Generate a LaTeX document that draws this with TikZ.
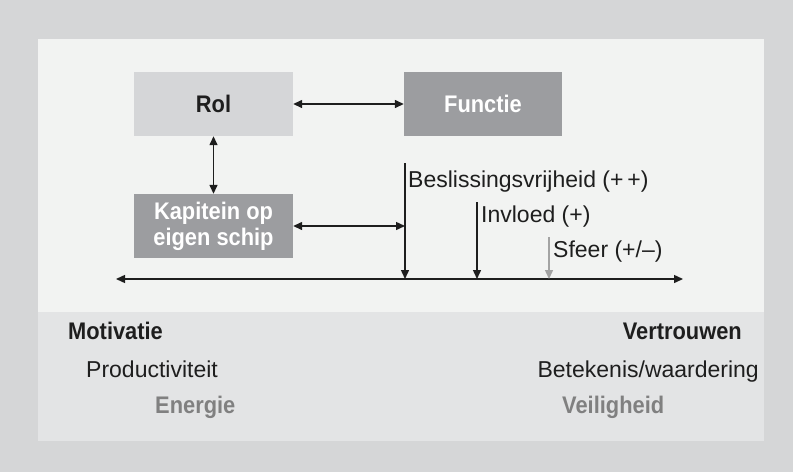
\documentclass[tikz,border=0pt]{standalone}
\usepackage{fontspec}
\setmainfont{Liberation Sans}[BoldFeatures={FakeStretch=0.91}]
\usetikzlibrary{arrows.meta}
\definecolor{outerbg}{HTML}{D5D6D7}
\definecolor{toppanel}{HTML}{F2F3F2}
\definecolor{botpanel}{HTML}{E3E4E5}
\definecolor{lightbox}{HTML}{D5D6D8}
\definecolor{darkbox}{HTML}{9C9DA0}
\definecolor{graytext}{HTML}{808080}
\definecolor{grayarrow}{HTML}{A3A3A3}
\definecolor{ink}{HTML}{1E1E1E}
\begin{document}
\begin{tikzpicture}[x=1pt,y=-1pt,
  font=\fontsize{23}{26}\selectfont,
  box/.style={draw=none, minimum width=159pt, minimum height=64pt, inner sep=0pt, align=center, font=\fontsize{24}{26}\selectfont\bfseries},
  lbl/.style={inner sep=0pt, text=ink},
  bl/.style={font=\fontsize{24}{26}\selectfont\bfseries},
  conn/.style={draw=ink, line width=1.4pt, {Triangle[length=9pt,width=8pt]}-{Triangle[length=9pt,width=8pt]}},
  down/.style={draw=ink, line width=1.4pt, -{Triangle[length=9pt,width=8pt]}}
]
\useasboundingbox (0,0) rectangle (793,472);
\fill[outerbg] (0,0) rectangle (793,472);
\fill[toppanel] (38,39) rectangle (764,312);
\fill[botpanel] (38,312) rectangle (764,441);

\node[box, fill=lightbox, text=ink] (rol) at (213.5,104) {Rol};
\node[box, fill=darkbox, text=white, minimum width=158pt] (fun) at (483,104) {Functie};
\node[box, fill=darkbox, text=white] (kap) at (213.5,226) {Kapitein op\\eigen schip};

\coordinate (axL) at (116,279);
\coordinate (axR) at (683,279);
\coordinate (b1t) at (405,163);
\coordinate (b1b) at (405,279);
\coordinate (b1m) at (405,226);
\coordinate (b2t) at (477,202);
\coordinate (b2b) at (477,279);
\coordinate (b3t) at (549,237);
\coordinate (b3b) at (549,279);

\draw[conn] (rol.east) -- (fun.west);
\draw[conn] (rol.south) -- (kap.north);
\draw[conn] (kap.east) -- (b1m);
\draw[conn] (axL) -- (axR);
\draw[down] (b1t) -- (b1b);
\draw[down] (b2t) -- (b2b);
\draw[down, draw=grayarrow] (b3t) -- (b3b);

\node[lbl, anchor=base west] (l1) at (408,187) {Beslissingsvrijheid (+\,+)};
\node[lbl, anchor=base west] (l2) at (481,222) {Invloed (+)};
\node[lbl, anchor=base west] (l3) at (553,257) {Sfeer (+/–)};

\node[lbl, bl, anchor=base west] (mot) at (68,339) {Motivatie};
\node[lbl, anchor=base west] (pro) at (86,377) {Productiviteit};
\node[lbl, bl, anchor=base west, text=graytext] (ene) at (155,413) {Energie};
\node[lbl, bl, anchor=base east] (ver) at (742,339) {Vertrouwen};
\node[lbl, anchor=base east] (bet) at (759,377) {Betekenis/waardering};
\node[lbl, bl, anchor=base west, text=graytext] (vei) at (562,413) {Veiligheid};
\end{tikzpicture}
\end{document}
